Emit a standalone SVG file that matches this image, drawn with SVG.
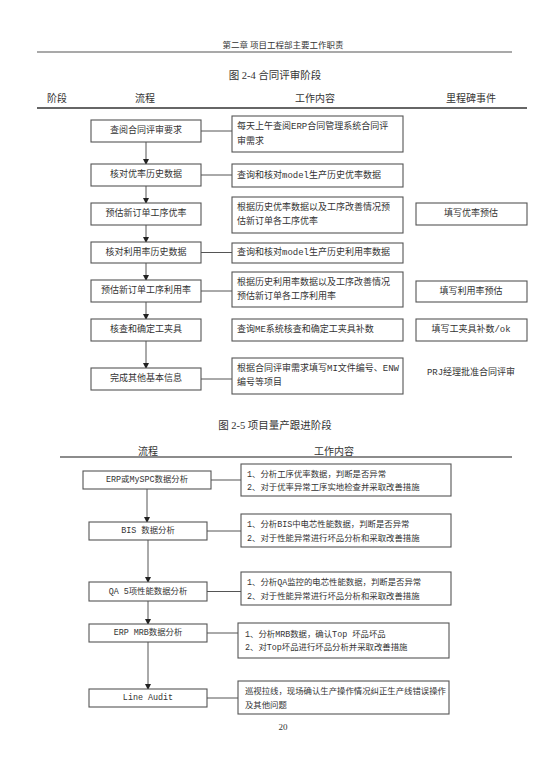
<svg xmlns="http://www.w3.org/2000/svg" width="550" height="778" viewBox="0 0 550 778">
<style>
text{fill:#333;font-family:"Liberation Serif","Noto Sans CJK SC",serif;dominant-baseline:central}
.t{font-family:"Liberation Mono","Noto Sans CJK SC",monospace;font-size:9px}
.s{font-family:"Liberation Mono","Noto Sans CJK SC",monospace;font-size:8.4px}
.c{text-anchor:middle}
.box{fill:#fff;stroke:#555;stroke-width:1.1}
.ln{stroke:#555;stroke-width:1;fill:none}
.hd{font-size:10px}
.cap{font-size:10.5px;text-anchor:middle}
</style>
<defs>
<marker id="ah" markerWidth="6" markerHeight="6" refX="5" refY="3" orient="auto" markerUnits="userSpaceOnUse">
<path d="M0,0 L6,3 L0,6 z" fill="#222"/>
</marker>
</defs>
<rect width="550" height="778" fill="#fff"/>
<text x="283" y="45" class="c" style="font-size:8.5px">第二章 项目工程部主要工作职责</text>
<line x1="37" y1="52" x2="512" y2="52" stroke="#555" stroke-width="1.2"/>
<text x="275" y="75" class="cap">图 2-4 合同评审阶段</text>
<text x="57" y="98" class="hd c">阶段</text>
<text x="145" y="98" class="hd c">流程</text>
<text x="315" y="98" class="hd c">工作内容</text>
<text x="471" y="98" class="hd c">里程碑事件</text>
<line x1="37" y1="108" x2="527" y2="108" stroke="#666" stroke-width="1.8"/>

<g id="connectors">
<line class="ln" x1="146" y1="142" x2="146" y2="164" marker-end="url(#ah)"/>
<line class="ln" x1="146" y1="186" x2="146" y2="203" marker-end="url(#ah)"/>
<line class="ln" x1="146" y1="225" x2="146" y2="242" marker-end="url(#ah)"/>
<line class="ln" x1="146" y1="263" x2="146" y2="280" marker-end="url(#ah)"/>
<line class="ln" x1="146" y1="302" x2="146" y2="319" marker-end="url(#ah)"/>
<line class="ln" x1="146" y1="341" x2="146" y2="368" marker-end="url(#ah)"/>
<line class="ln" x1="201" y1="131" x2="232" y2="131"/>
<line class="ln" x1="201" y1="175" x2="232" y2="175"/>
<line class="ln" x1="201" y1="252.5" x2="232" y2="252.5"/>
<line class="ln" x1="201" y1="291" x2="232" y2="291"/>
<line class="ln" x1="201" y1="379" x2="232" y2="379"/>
<line class="ln" x1="147" y1="489" x2="147" y2="522" marker-end="url(#ah)"/>
<line class="ln" x1="148" y1="540" x2="148" y2="582" marker-end="url(#ah)"/>
<line class="ln" x1="148" y1="601" x2="148" y2="624" marker-end="url(#ah)"/>
<line class="ln" x1="148" y1="642" x2="148" y2="689" marker-end="url(#ah)"/>
<line class="ln" x1="211" y1="480" x2="241" y2="480"/>
<line class="ln" x1="207" y1="531" x2="241" y2="531"/>
<line class="ln" x1="207" y1="591.5" x2="241" y2="591.5"/>
<line class="ln" x1="207" y1="633" x2="238" y2="633"/>
<line class="ln" x1="207" y1="698" x2="238" y2="698"/>
</g>

<g id="f1"><rect class="box" x="91" y="120" width="110" height="22"/><text class="t c" x="146" y="131">查阅合同评审要求</text></g>
<g id="f2"><rect class="box" x="91" y="164" width="110" height="22"/><text class="t c" x="146" y="175">核对优率历史数据</text></g>
<g id="f3"><rect class="box" x="91" y="203" width="110" height="22"/><text class="t c" x="146" y="214">预估新订单工序优率</text></g>
<g id="f4"><rect class="box" x="91" y="242" width="110" height="21"/><text class="t c" x="146" y="252.5">核对利用率历史数据</text></g>
<g id="f5"><rect class="box" x="91" y="280" width="110" height="22"/><text class="t c" x="146" y="291">预估新订单工序利用率</text></g>
<g id="f6"><rect class="box" x="91" y="319" width="110" height="22"/><text class="t c" x="146" y="330">核查和确定工夹具</text></g>
<g id="f7"><rect class="box" x="91" y="368" width="110" height="22"/><text class="t c" x="146" y="379">完成其他基本信息</text></g>

<g id="w1"><rect class="box" x="232" y="116" width="171" height="36"/><text class="t" x="237" y="127">每天上午查阅ERP合同管理系统合同评</text><text class="t" x="237" y="142">审需求</text></g>
<g id="w2"><rect class="box" x="232" y="164" width="171" height="23"/><text class="t" x="237" y="175.5">查询和核对model生产历史优率数据</text></g>
<g id="w3"><rect class="box" x="232" y="197" width="171" height="36"/><text class="t" x="237" y="208">根据历史优率数据以及工序改善情况预</text><text class="t" x="237" y="222">估新订单各工序优率</text></g>
<g id="w4"><rect class="box" x="232" y="243" width="171" height="20"/><text class="t" x="237" y="253">查询和核对model生产历史利用率数据</text></g>
<g id="w5"><rect class="box" x="232" y="272" width="171" height="35"/><text class="t" x="237" y="283">根据历史利用率数据以及工序改善情况</text><text class="t" x="237" y="297">预估新订单各工序利用率</text></g>
<g id="w6"><rect class="box" x="232" y="319" width="171" height="22"/><text class="t" x="237" y="330">查询ME系统核查和确定工夹具补数</text></g>
<g id="w7"><rect class="box" x="232" y="358" width="171" height="36"/><text class="t" x="237" y="369">根据合同评审需求填写MI文件编号、ENW</text><text class="t" x="237" y="383">编号等项目</text></g>

<g id="m3"><rect class="box" x="416" y="203" width="111" height="22"/><text class="t c" x="471" y="214">填写优率预估</text></g>
<g id="m5"><rect class="box" x="416" y="281" width="111" height="21"/><text class="t c" x="471" y="291.5">填写利用率预估</text></g>
<g id="m6"><rect class="box" x="416" y="319" width="111" height="22"/><text class="t c" x="471" y="330">填写工夹具补数/ok</text></g>
<g id="m7"><text class="t c" x="471" y="373">PRJ经理批准合同评审</text></g>

<text x="275" y="425" class="cap">图 2-5 项目量产跟进阶段</text>
<text x="148" y="451" class="hd c">流程</text>
<text x="334" y="451" class="hd c">工作内容</text>
<line x1="60" y1="457" x2="512" y2="457" stroke="#666" stroke-width="1.3"/>

<g id="b1"><rect class="box" x="83" y="471" width="128" height="18"/><text class="s c" x="147" y="480">ERP或MySPC数据分析</text></g>
<g id="b2"><rect class="box" x="89" y="522" width="118" height="18"/><text class="s c" x="148" y="531">BIS 数据分析</text></g>
<g id="b3"><rect class="box" x="89" y="582" width="118" height="19"/><text class="s c" x="148" y="591.5">QA 5项性能数据分析</text></g>
<g id="b4"><rect class="box" x="89" y="624" width="118" height="18"/><text class="s c" x="148" y="633">ERP MRB数据分析</text></g>
<g id="b5"><rect class="box" x="89" y="689" width="118" height="18"/><text class="s c" x="148" y="698">Line Audit</text></g>

<g id="d1"><rect class="box" x="241" y="464" width="210" height="32"/><text class="s" x="247" y="475">1、分析工序优率数据，判断是否异常</text><text class="s" x="247" y="488">2、对于优率异常工序实地检查并采取改善措施</text></g>
<g id="d2"><rect class="box" x="241" y="514" width="210" height="33"/><text class="s" x="247" y="525">1、分析BIS中电芯性能数据，判断是否异常</text><text class="s" x="247" y="539">2、对于性能异常进行坏品分析和采取改善措施</text></g>
<g id="d3"><rect class="box" x="241" y="572" width="210" height="33"/><text class="s" x="247" y="583">1、分析QA监控的电芯性能数据，判断是否异常</text><text class="s" x="247" y="597">2、对于性能异常进行坏品分析和采取改善措施</text></g>
<g id="d4"><rect class="box" x="238" y="623" width="211" height="35"/><text class="s" x="245" y="635">1、分析MRB数据，确认Top 坏品坏品</text><text class="s" x="245" y="648">2、对Top坏品进行坏品分析并采取改善措施</text></g>
<g id="d5"><rect class="box" x="238" y="681" width="211" height="33"/><text class="s" x="245" y="692">巡视拉线，现场确认生产操作情况纠正生产线错误操作</text><text class="s" x="245" y="706">及其他问题</text></g>

<text x="283" y="727" class="c" style="font-size:9px">20</text>
</svg>
